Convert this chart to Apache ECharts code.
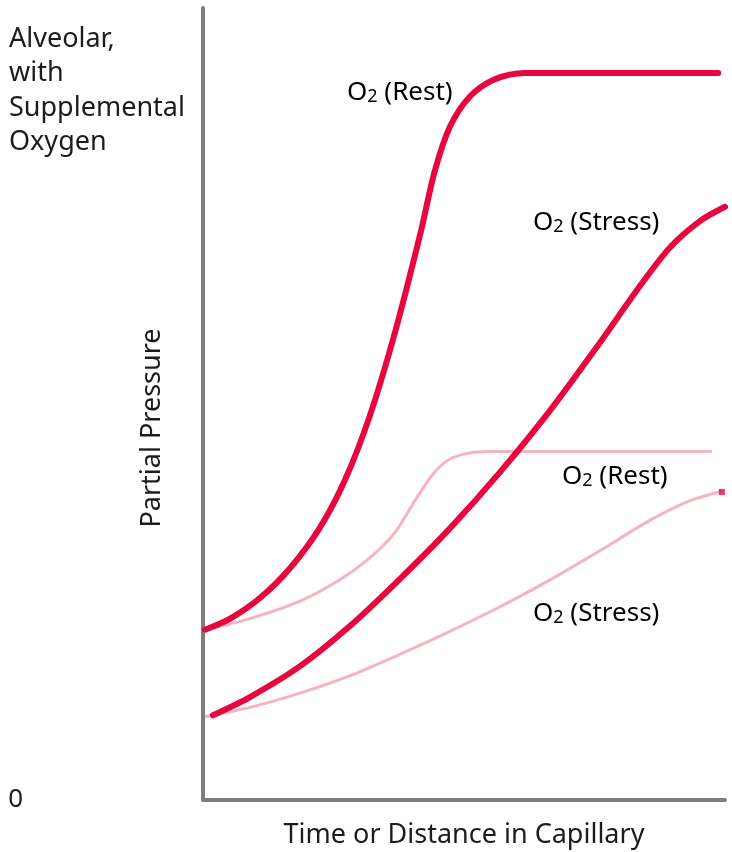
<!DOCTYPE html>
<html>
<head>
<meta charset="utf-8">
<script src="https://cdn.jsdelivr.net/npm/echarts@6/dist/echarts.min.js"></script>
<style>
html,body{margin:0;padding:0;background:#fff;}
#chart{width:732px;height:852px;}
</style>
</head>
<body>
<div id="chart"></div>
<script>
// x: time/distance along capillary (0-100), y: partial pressure (0-100, arbitrary units)
var restSupplemental = [
  [0.4,21.5],[5.2,22.9],[10.9,25.5],[16.7,29.3],[22.4,34.4],[27.2,40.4],[32.0,48.6],
  [36.8,59.1],[41.6,71.4],[44.4,79.4],[47.3,85.0],[51.1,88.8],[55.9,91.0],[61.7,91.8],
  [98.7,91.8]
];
var stressSupplemental = [
  [1.9,10.7],[9.0,13.0],[18.6,16.9],[28.2,22.0],[37.7,27.9],[47.3,34.3],[56.9,41.4],
  [66.5,49.2],[76.1,57.8],[83.7,64.9],[89.5,69.8],[95.2,73.1],[100,74.9]
];
var restNormal = [
  [0.4,21.5],[9.0,22.9],[18.6,25.1],[26.2,27.8],[32.0,30.6],[36.8,33.8],[40.6,37.8],
  [43.9,41.0],[46.7,42.8],[50.2,43.7],[55.0,44.0],[97.5,44.0]
];
var stressNormal = [
  [0.4,10.5],[9.0,11.7],[18.6,13.5],[28.2,15.7],[37.7,18.4],[47.3,21.3],[56.9,24.4],
  [66.5,27.8],[76.1,31.5],[85.6,35.3],[93.3,37.8],[99.0,38.9]
];
var stressNormalEnd = [[99.4,38.9]];
var yTickLabels = ['0'];
var xAxisTitle = 'Time or Distance in Capillary';
var yAxisTitle = 'Partial Pressure';
var topLabel = 'Alveolar,\nwith\nSupplemental\nOxygen';

var FONT = '"Noto Sans", "Open Sans", sans-serif';
var DARK = '#e8063f';
var LIGHT = '#f6b3c1';
var TEXT = '#1c1c1c';

function o2Label(word){ return '{n|O}{s|2}{n| (' + word + ')}'; }
function richFor(color){
  return {
    n: {fontSize: 26, fontFamily: FONT, color: color, lineHeight: 30, verticalAlign: 'bottom'},
    s: {fontSize: 18, fontFamily: FONT, color: color, lineHeight: 25, verticalAlign: 'bottom'}
  };
}

var chart = echarts.init(document.getElementById('chart'), null, {renderer: 'canvas'});
chart.setOption({
  backgroundColor: '#ffffff',
  animation: false,
  grid: {left: 203, right: 7, top: 8, bottom: 52, containLabel: false, outerBoundsMode: 'none'},
  xAxis: {
    type: 'value', min: 0, max: 100,
    name: xAxisTitle, nameLocation: 'middle', nameGap: 22, nameMoveOverlap: false,
    nameTextStyle: {fontSize: 27, fontFamily: FONT, color: TEXT},
    axisLine: {show: true, lineStyle: {color: '#7d7d7d', width: 4}},
    axisTick: {show: false}, axisLabel: {show: false}, splitLine: {show: false}
  },
  yAxis: {
    type: 'value', min: 0, max: 100, interval: 100,
    axisLine: {show: true, lineStyle: {color: '#7d7d7d', width: 4}},
    axisTick: {show: false}, splitLine: {show: false},
    axisLabel: {
      show: true, margin: 180, fontSize: 26, fontFamily: FONT, color: TEXT,
      formatter: function(v){ return v === 0 ? yTickLabels[0] : ''; }
    }
  },
  series: [
    {type: 'line', data: restNormal, smooth: 0.3, symbol: 'none', z: 2,
     lineStyle: {color: LIGHT, width: 3}},
    {type: 'line', data: stressNormal, smooth: 0.3, symbol: 'none', z: 2,
     lineStyle: {color: LIGHT, width: 3}},
    {type: 'scatter', data: stressNormalEnd, symbol: 'rect', symbolSize: 6, z: 3,
     itemStyle: {color: DARK}},
    {type: 'line', data: restSupplemental, smooth: 0.3, symbol: 'none', z: 4,
     lineStyle: {color: DARK, width: 6, cap: 'round'}},
    {type: 'line', data: stressSupplemental, smooth: 0.3, symbol: 'none', z: 4,
     lineStyle: {color: DARK, width: 6, cap: 'round'}}
  ],
  graphic: [
    {type: 'text', x: 152, y: 428, rotation: Math.PI / 2, z: 10,
     style: {text: yAxisTitle, fontSize: 27, fontFamily: FONT, fill: TEXT, align: 'center', verticalAlign: 'middle'}},
    {type: 'text', left: 9, top: 22, z: 10,
     style: {text: topLabel, fontSize: 27, fontFamily: FONT, fill: TEXT, lineHeight: 34.5}},
    {type: 'text', left: 347, top: 80, z: 10,
     style: {text: o2Label('Rest'), rich: richFor('#2a2a2a')}},
    {type: 'text', left: 533, top: 210, z: 10,
     style: {text: o2Label('Stress'), rich: richFor('#2a2a2a')}},
    {type: 'text', left: 562, top: 464, z: 10,
     style: {text: o2Label('Rest'), rich: richFor('#c8c8c8')}},
    {type: 'text', left: 533, top: 601, z: 10,
     style: {text: o2Label('Stress'), rich: richFor('#d2d2d2')}}
  ]
});
</script>
</body>
</html>
